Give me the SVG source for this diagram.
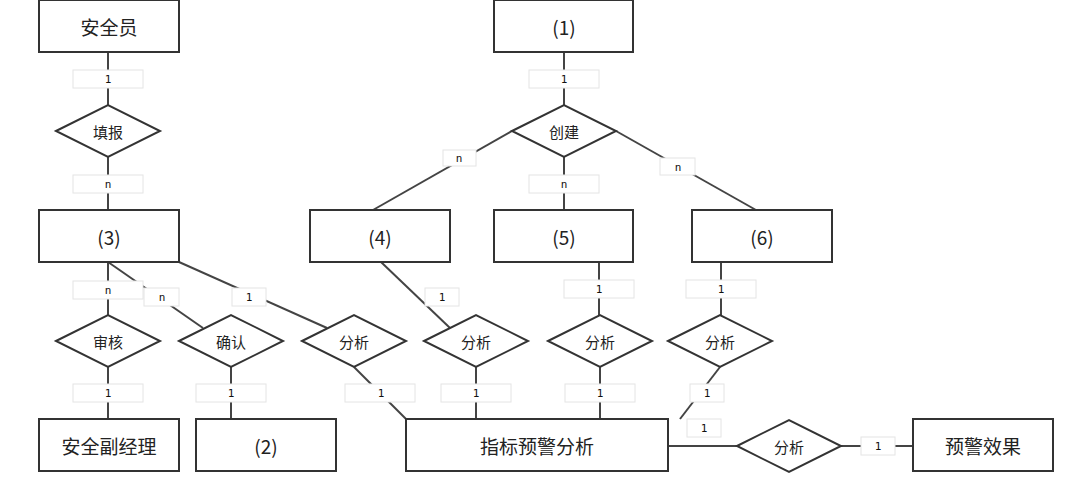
<svg xmlns="http://www.w3.org/2000/svg" width="1080" height="485" viewBox="0 0 1080 485">
<style>
.b{fill:#fff;stroke:#333;stroke-width:2}
.d{fill:#fff;stroke:#333;stroke-width:2}
.c line{stroke:#444;stroke-width:2}
.t{font-family:"Noto Sans CJK SC","Liberation Sans",sans-serif;font-size:19px;fill:#222;text-anchor:middle;dominant-baseline:central}
.s{font-family:"Noto Sans CJK SC","Liberation Sans",sans-serif;font-size:15px;fill:#222;text-anchor:middle;dominant-baseline:central}
.l rect{fill:#fff;stroke:#e4e4e4;stroke-width:1}
.l text{font-family:"DejaVu Sans Mono",monospace;font-size:11px;fill:#111;text-anchor:middle;dominant-baseline:central}
</style>
<rect width="1080" height="485" fill="#fff"/>
<g class="c">
<line x1="108" y1="52" x2="108" y2="210"/>
<line x1="564" y1="52" x2="564" y2="210"/>
<line x1="512" y1="131" x2="373" y2="210"/>
<line x1="616" y1="131" x2="756" y2="210"/>
<line x1="108" y1="262" x2="108" y2="419"/>
<line x1="108" y1="262" x2="203" y2="328"/>
<line x1="179" y1="262" x2="327" y2="328"/>
<line x1="231" y1="367" x2="231" y2="419"/>
<line x1="354" y1="367" x2="406" y2="419"/>
<line x1="381" y1="262" x2="450" y2="328"/>
<line x1="476" y1="367" x2="476" y2="419"/>
<line x1="599" y1="262" x2="599" y2="315"/>
<line x1="600" y1="367" x2="600" y2="419"/>
<line x1="721" y1="262" x2="721" y2="315"/>
<line x1="720" y1="367" x2="680" y2="419"/>
<line x1="668" y1="446" x2="737" y2="446"/>
<line x1="841" y1="446" x2="913" y2="446"/>
</g>
<g class="l">
<rect x="73" y="70" width="70" height="18"/><text x="108" y="79">1</text>
<rect x="73" y="175" width="70" height="18"/><text x="108" y="184">n</text>
<rect x="529" y="70" width="70" height="18"/><text x="564" y="79">1</text>
<rect x="529" y="175" width="70" height="18"/><text x="564" y="184">n</text>
<rect x="443" y="150" width="33" height="16"/><text x="459" y="158">n</text>
<rect x="660" y="158" width="35" height="17"/><text x="678" y="167">n</text>
<rect x="73" y="281" width="70" height="18"/><text x="108" y="290">n</text>
<rect x="144" y="288" width="35" height="18"/><text x="162" y="297">n</text>
<rect x="232" y="288" width="34" height="18"/><text x="249" y="297">1</text>
<rect x="425" y="288" width="34" height="18"/><text x="442" y="297">1</text>
<rect x="564" y="280" width="70" height="18"/><text x="599" y="289">1</text>
<rect x="686" y="280" width="70" height="18"/><text x="721" y="289">1</text>
<rect x="73" y="384" width="70" height="18"/><text x="108" y="393">1</text>
<rect x="196" y="384" width="70" height="18"/><text x="231" y="393">1</text>
<rect x="345" y="384" width="70" height="18"/><text x="381" y="393">1</text>
<rect x="441" y="384" width="70" height="18"/><text x="476" y="393">1</text>
<rect x="565" y="384" width="70" height="18"/><text x="600" y="393">1</text>
<rect x="690" y="384" width="34" height="18"/><text x="707" y="393">1</text>
<rect x="687" y="419" width="34" height="18"/><text x="704" y="428">1</text>
<rect x="861" y="437" width="34" height="18"/><text x="878" y="446">1</text>
</g>
<g id="n-anquanyuan"><rect class="b" x="39" y="0" width="140" height="52"/><text class="t" x="109" y="26">安全员</text></g>
<g id="n-1"><rect class="b" x="494" y="0" width="139" height="52"/><text class="t" x="564" y="26">(1)</text></g>
<g id="n-3"><rect class="b" x="39" y="210" width="140" height="52"/><text class="t" x="109" y="236">(3)</text></g>
<g id="n-4"><rect class="b" x="310" y="210" width="140" height="52"/><text class="t" x="380" y="236">(4)</text></g>
<g id="n-5"><rect class="b" x="494" y="210" width="139" height="52"/><text class="t" x="564" y="236">(5)</text></g>
<g id="n-6"><rect class="b" x="692" y="210" width="140" height="52"/><text class="t" x="762" y="236">(6)</text></g>
<g id="n-fujingli"><rect class="b" x="39" y="419" width="140" height="52"/><text class="t" x="109" y="445">安全副经理</text></g>
<g id="n-2"><rect class="b" x="196" y="419" width="140" height="52"/><text class="t" x="266" y="445">(2)</text></g>
<g id="n-zhibiao"><rect class="b" x="406" y="419" width="262" height="52"/><text class="t" x="537" y="445">指标预警分析</text></g>
<g id="n-xiaoguo"><rect class="b" x="913" y="419" width="140" height="52"/><text class="t" x="983" y="445">预警效果</text></g>
<g id="r-tianbao"><polygon class="d" points="56,131 108,105 160,131 108,157"/><text class="s" x="108" y="131">填报</text></g>
<g id="r-chuangjian"><polygon class="d" points="512,131 564,105 616,131 564,157"/><text class="s" x="564" y="131">创建</text></g>
<g id="r-shenhe"><polygon class="d" points="56,341 108,315 160,341 108,367"/><text class="s" x="108" y="341">审核</text></g>
<g id="r-queren"><polygon class="d" points="179,341 231,315 283,341 231,367"/><text class="s" x="231" y="341">确认</text></g>
<g id="r-fx1"><polygon class="d" points="302,341 354,315 406,341 354,367"/><text class="s" x="354" y="341">分析</text></g>
<g id="r-fx2"><polygon class="d" points="424,341 476,315 528,341 476,367"/><text class="s" x="476" y="341">分析</text></g>
<g id="r-fx3"><polygon class="d" points="548,341 600,315 652,341 600,367"/><text class="s" x="600" y="341">分析</text></g>
<g id="r-fx4"><polygon class="d" points="668,341 720,315 772,341 720,367"/><text class="s" x="720" y="341">分析</text></g>
<g id="r-fx5"><polygon class="d" points="737,446 789,420 841,446 789,472"/><text class="s" x="789" y="446">分析</text></g>
</svg>
